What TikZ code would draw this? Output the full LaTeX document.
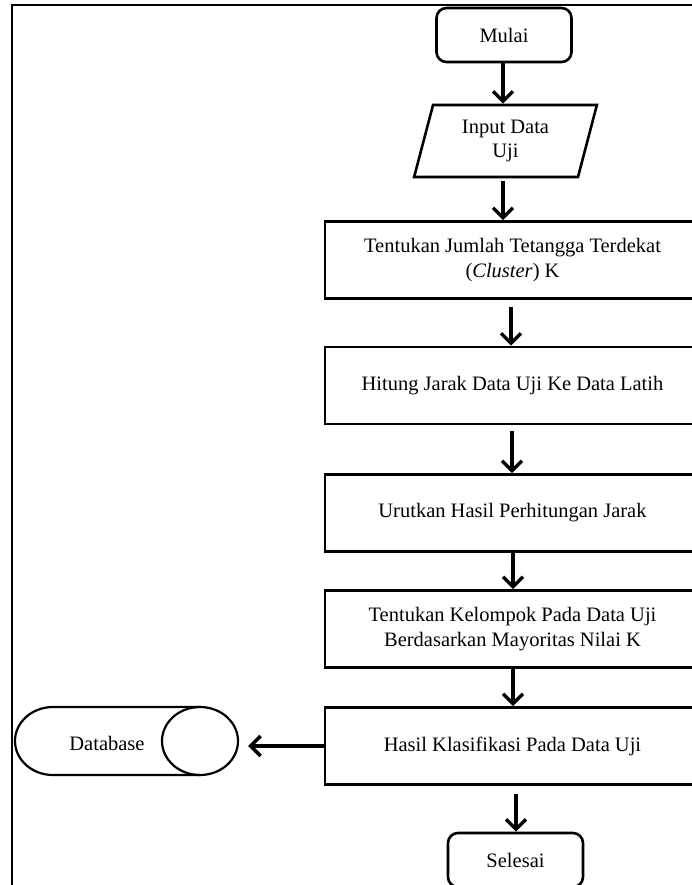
\documentclass[tikz,border=0pt]{standalone}
\usepackage{fontspec}
\setmainfont{Liberation Serif}
\usetikzlibrary{shapes.geometric,arrows.meta,calc}
\begin{document}
\begin{tikzpicture}[x=1pt,y=-1pt,
  every node/.style={font=\fontsize{20.5}{24.6}\selectfont, align=center, inner sep=0pt},
  box/.style={draw, line width=2.6pt, minimum width=375pt, minimum height=77pt},
  term/.style={draw, line width=2.6pt, rounded corners=10pt, minimum width=135pt, minimum height=54pt},
  io/.style={draw, line width=2.6pt, trapezium, trapezium left angle=75, trapezium right angle=105, trapezium stretches=true, minimum width=183pt, minimum height=72pt},
  dbline/.style={line width=2.2pt},
  arr/.style={line width=3.4pt, -{Straight Barb[length=10pt,width=20pt,line width=3.4pt]}},
  frame/.style={line width=2.8pt}
  ]
\useasboundingbox (0,0) rectangle (692,885);
\clip (0,0) rectangle (692,885);
\draw[frame] (12,900) -- (12,5) -- (710,5);
\node[term] (start) at (504,35) {Mulai};
\node[io] (in) at (505.5,141) {Input Data\\Uji};
\node[box] (r1) at (512.5,260) {Tentukan Jumlah Tetangga Terdekat\\(\textit{Cluster}) K};
\node[box] (r2) at (512.5,385.5) {Hitung Jarak Data Uji Ke Data Latih};
\node[box] (r3) at (512.5,513) {Urutkan Hasil Perhitungan Jarak};
\node[box] (r4) at (512.5,629) {Tentukan Kelompok Pada Data Uji\\Berdasarkan Mayoritas Nilai K};
\node[box] (r5) at (512.5,746) {Hasil Klasifikasi Pada Data Uji};
\node[term] (end) at (515.5,860) {Selesai};
% database (horizontal cylinder)
\node[minimum width=223pt, minimum height=68pt] (db) at (126.5,741) {};
\node (dbtext) at (107,743) {Database};
\draw[dbline] (200,707) -- (53,707) arc[start angle=270, end angle=90, x radius=38, y radius=34] -- (200,775);
\draw[dbline] (200,741) ellipse[x radius=38, y radius=34];
% connectors
\draw[arr] (start.south -| 503,0) -- (in.north -| 503,0);
\draw[arr] ([yshift=-3pt]in.south -| 503,0) -- (r1.north -| 503,0);
\draw[arr] ([yshift=-7pt]r1.south -| 511,0) -- (r2.north -| 511,0);
\draw[arr] ([yshift=-6pt]r2.south -| 512,0) -- (r3.north -| 512,0);
\draw[arr] (r3.south -| 513,0) -- (r4.north -| 513,0);
\draw[arr] (r4.south -| 513,0) -- (r5.north -| 513,0);
\draw[arr] ([yshift=-8pt]r5.south -| 516,0) -- (end.north -| 516,0);
\draw[arr] (r5.west) -- ([xshift=10pt]db.east |- r5.west);
\end{tikzpicture}
\end{document}
